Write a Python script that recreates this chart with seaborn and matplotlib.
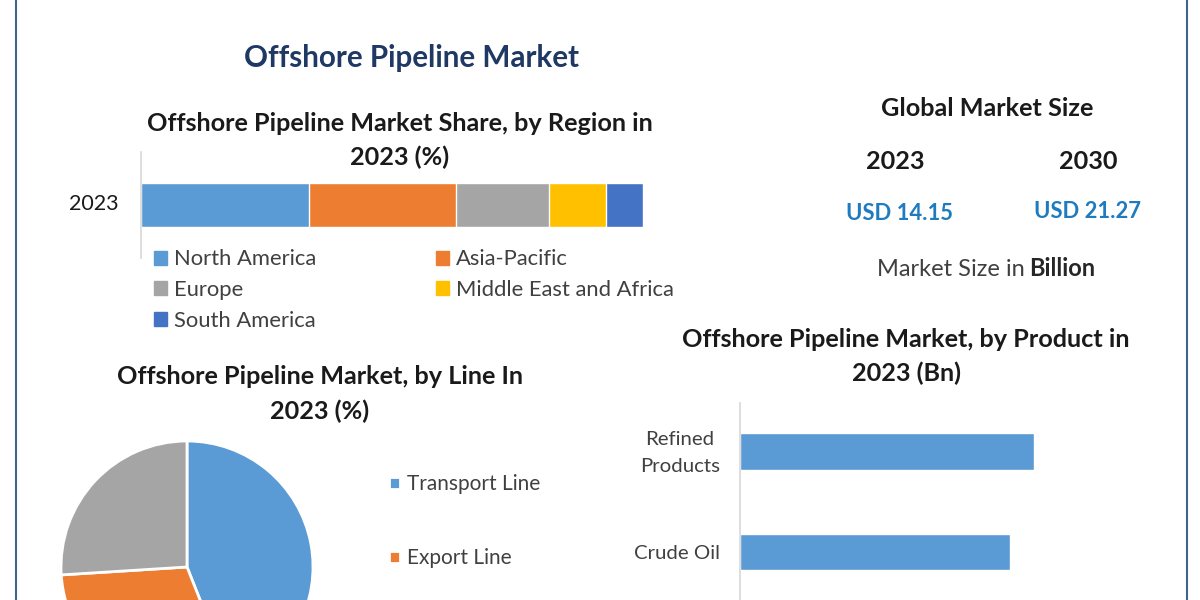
import matplotlib
matplotlib.use('Agg')
import matplotlib.pyplot as plt
from matplotlib.lines import Line2D
from matplotlib.patches import Patch
from matplotlib.transforms import ScaledTranslation
import seaborn as sns
import pandas as pd

# region share, %
region_names = ['North America', 'Asia-Pacific', 'Europe', 'Middle East and Africa', 'South America']
region_share = [33.5, 29.2, 18.5, 11.4, 7.4]
region_colors = ['#5B9BD5', '#ED7D31', '#A5A5A5', '#FFC000', '#4472C4']
region_year = ['2023']
# legend fills column by column, picture reads row by row
legend_order = [0, 2, 4, 1, 3]

# line share, % (third legend entry is cut off in the picture)
line_names = ['Transport Line', 'Export Line']
line_share = [44, 30, 26]
line_colors = ['#5B9BD5', '#ED7D31', '#A5A5A5']

# product size, Bn
product_names = ['Refined\nProducts', 'Crude Oil']
product_size = [5.5, 5.05]

W, H = 1200, 600

sns.set_theme(style='white')
plt.rcParams['font.family'] = ['Lato', 'DejaVu Sans']

fig = plt.figure(figsize=(12, 6), dpi=100, facecolor='white')


def add_axes_px(x0, y0, x1, y1):
    # pixel box measured from the top left of the picture
    return fig.add_axes([x0 / W, 1 - y1 / H, (x1 - x0) / W, (y1 - y0) / H])


def text_px(x, y, s, **kw):
    kw.setdefault('ha', 'center')
    kw.setdefault('va', 'center')
    fig.text(x / W, 1 - y / H, s, **kw)


# stacked bar, drawn back to front from the cumulative totals
ax1 = add_axes_px(141, 152, 643, 258)
region_df = pd.DataFrame({'name': region_names, 'share': region_share, 'color': region_colors})
region_df['total'] = region_df['share'].cumsum()
for _, row in region_df[::-1].iterrows():
    sns.barplot(x=[row['total']], y=region_year, color=row['color'], saturation=1,
                width=0.406, orient='h', ax=ax1)
ax1.set_xlim(0, 100)
ax1.set_xlabel('')
ax1.set_ylabel('')
ax1.set_xticks([])
sns.despine(ax=ax1, top=True, right=True, bottom=True)
ax1.spines['left'].set_color('#D9D9D9')
ax1.tick_params(axis='y', length=0, pad=16, labelsize=15.5, labelcolor='#1A1A1A')
ax1.patch.set_alpha(0)
for lab in ax1.get_yticklabels():
    # label sits a little above the bar centre
    lab.set_transform(lab.get_transform() + ScaledTranslation(0, 0.025, fig.dpi_scale_trans))
handles = [Patch(color=region_colors[i]) for i in legend_order]
labels = [region_names[i] for i in legend_order]
fig.legend(handles, labels, ncol=2, frameon=False, loc='upper left',
           bbox_to_anchor=(154 / W, 1 - 249.5 / H), borderaxespad=0, borderpad=0,
           fontsize=15.8, labelcolor='#404040', handlelength=0.6, handleheight=0.6,
           handletextpad=0.32, labelspacing=0.48, columnspacing=5.45)

# pie runs off the bottom of the picture
ax2 = add_axes_px(61, 441, 313, 693)
wedges, _ = ax2.pie(line_share, colors=line_colors, startangle=90, counterclock=False,
                    radius=1, wedgeprops={'edgecolor': 'white', 'linewidth': 2})
ax2.set_xlim(-1, 1)
ax2.set_ylim(-1, 1)
fig.legend(wedges[:2], line_names, frameon=False, loc='upper left',
           bbox_to_anchor=(389 / W, 1 - 474.5 / H), borderaxespad=0, borderpad=0,
           fontsize=15, labelcolor='#404040', handlelength=0.55, handleheight=0.55,
           handletextpad=0.3, labelspacing=2.58)

# product bars
ax3 = add_axes_px(740, 403, 1100, 600)
sns.barplot(x=product_size, y=product_names, color='#5B9BD5', saturation=1, width=0.36,
            orient='h', ax=ax3)
ax3.set_xlim(0, 6.74)
ax3.set_ylim(1.478, -0.483)
ax3.set_xlabel('')
ax3.set_ylabel('')
ax3.set_xticks([])
sns.despine(ax=ax3, top=True, right=True, bottom=True)
ax3.spines['left'].set_color('#D9D9D9')
ax3.tick_params(axis='y', length=0, pad=14.5, labelsize=14.7, labelcolor='#404040')
for lab in ax3.get_yticklabels():
    lab.set_multialignment('center')
    lab.set_linespacing(1.75)
# two line label sits higher than its bar centre
two_line = ax3.get_yticklabels()[0]
two_line.set_transform(two_line.get_transform() + ScaledTranslation(0, 0.055, fig.dpi_scale_trans))

# titles and text blocks
text_px(411.5, 58, 'Offshore Pipeline Market', fontsize=21.3, fontweight='bold', color='#1F3864')
title_kw = dict(fontsize=18.2, fontweight='bold', color='#1A1A1A')
text_px(400, 123.5, 'Offshore Pipeline Market Share, by Region in', **title_kw)
text_px(400, 157.5, '2023 (%)', **title_kw)
text_px(320, 377, 'Offshore Pipeline Market, by Line In', **title_kw)
text_px(320, 411.5, '2023 (%)', **title_kw)
text_px(906, 339.5, 'Offshore Pipeline Market, by Product in', **title_kw)
text_px(906, 373.5, '2023 (Bn)', **title_kw)
text_px(987, 109, 'Global Market Size', **title_kw)
text_px(895, 161.5, '2023', **title_kw)
text_px(1088, 161.5, '2030', **title_kw)
text_px(899.5, 214, 'USD 14.15', fontsize=15.8, fontweight='bold', color='#1F7BBF')
text_px(1087, 212, 'USD 21.27', fontsize=15.8, fontweight='bold', color='#1F7BBF')
text_px(1024.5, 276, 'Market Size in', ha='right', va='baseline', fontsize=17, color='#404040')
text_px(1029, 276, 'Billion', ha='left', va='baseline', fontsize=17, fontweight='bold', color='#262626')

# frame lines at the sides
for x in [16, 1187]:
    fig.add_artist(Line2D([x / W, x / W], [0, 1], color='#41648A', linewidth=1.5))

fig.savefig('out.png', dpi=100)
